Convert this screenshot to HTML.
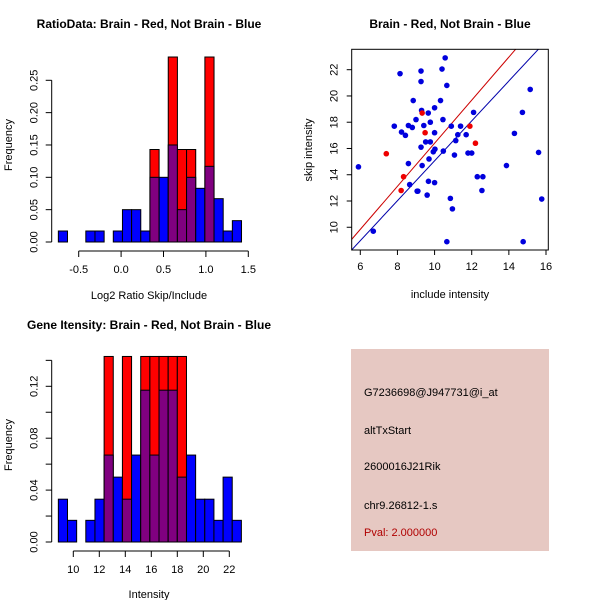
<!DOCTYPE html>
<html><head><meta charset="utf-8"><style>
body{margin:0;background:#fff}
svg{display:block;font-family:"Liberation Sans",Arial,sans-serif}
</style></head><body>
<svg id="c" width="600" height="600" viewBox="0 0 600 600" xmlns="http://www.w3.org/2000/svg">
<rect width="600" height="600" fill="#fff"/>
<g id="p1"></g>
<g id="p2"></g>
<g id="p3"></g>
<g>
<rect x="351" y="349" width="198" height="202" fill="#E6C8C2"/>
<text x="364" y="396" font-size="11" fill="#000">G7236698@J947731@i_at</text>
<text x="364" y="434" font-size="11" fill="#000">altTxStart</text>
<text x="364" y="470" font-size="11" fill="#000">2600016J21Rik</text>
<text x="364" y="509" font-size="11" fill="#000">chr9.26812-1.s</text>
<text x="364" y="536" font-size="11" fill="#B00000">Pval: 2.000000</text>
</g>
</svg>
<script>
// ---- Panel 1 data: RatioData histogram ----
const ratioBreakStart = -0.74;
const ratioBinWidth = 0.108;
const ratioBlue = [0.017,0,0,0.017,0.017,0,0.017,0.05,0.05,0.017,0.10,0.10,0.15,0.05,0.10,0.083,0.117,0.067,0.017,0.033];
const ratioRed  = [0,0,0,0,0,0,0,0,0,0,0.143,0,0.286,0.143,0.143,0,0.286,0,0,0];
const ratioXTicks = [-0.5,0,0.5,1,1.5];
const ratioXTickLabels = ["-0.5","0.0","0.5","1.0","1.5"];
const ratioYTicks = [0,0.05,0.10,0.15,0.20,0.25];
const ratioYTickLabels = ["0.00","0.05","0.10","0.15","0.20","0.25"];

// ---- Panel 2 data: scatter ----
const blueX = [5.9,6.7,8.14,9.27,9.27,10.4,10.57,10.66,8.85,10.32,10.0,9.3,9.66,9.0,10.45,7.83,8.59,8.8,9.42,9.77,10.9,11.4,8.22,8.43,10.0,11.25,11.7,11.14,9.52,9.77,9.27,10.02,9.93,10.47,11.8,12.0,11.07,9.7,8.59,9.33,8.66,9.67,10.0,9.06,9.1,9.6,10.85,10.96,10.66,12.1,12.3,12.6,12.55,15.15,14.73,14.3,13.87,15.6,15.77,14.77];
const blueY = [14.6,9.7,21.7,21.9,21.1,22.05,22.9,20.8,19.65,19.65,19.1,18.9,18.7,18.2,18.2,17.7,17.75,17.6,17.75,18.0,17.7,17.7,17.25,17.0,17.2,17.05,17.05,16.6,16.5,16.5,16.1,15.95,15.75,15.8,15.65,15.65,15.5,15.2,14.85,14.7,13.25,13.5,13.4,12.75,12.75,12.45,12.2,11.4,8.9,18.75,13.85,13.85,12.8,20.5,18.75,17.15,14.7,15.7,12.15,8.9];
const redX = [7.4,8.33,8.2,9.33,9.49,11.9,12.2];
const redY = [15.6,13.85,12.8,18.7,17.2,17.7,16.4];
const blueLine = [1.52,-0.14]; // slope, intercept
const redLine = [1.64,0.0];
const scXTicks = [6,8,10,12,14,16];
const scYTicks = [10,12,14,16,18,20,22];

// ---- Panel 3 data: Gene intensity histogram ----
const geneBreakStart = 8.85;
const geneBinWidth = 0.704;
const geneBlue = [0.033,0.0167,0,0.0167,0.033,0.067,0.05,0.033,0.067,0.117,0.067,0.117,0.117,0.05,0.067,0.033,0.033,0.0167,0.05,0.0167];
const geneRed  = [0,0,0,0,0,0.143,0,0.143,0,0.143,0.143,0.143,0.143,0.143,0,0,0,0,0,0];
const geneXTicks = [10,12,14,16,18,20,22];
const geneYTicks = [0,0.02,0.04,0.06,0.08,0.10,0.12,0.14];
const geneYTickLabels = ["0.00","","0.04","","0.08","","0.12",""];

const NS="http://www.w3.org/2000/svg";
function mk(parent,tag,attrs,text){const e=document.createElementNS(NS,tag);for(const k in attrs)e.setAttribute(k,attrs[k]);if(text!==undefined)e.textContent=text;parent.appendChild(e);return e;}

function histogram(g,o){
  const xs=v=>o.x0px+(v-o.x0)*o.kx, ys=v=>o.y0px-v*o.ky;
  const t=mk(g,'text',{x:o.titleX,y:o.titleY,'font-size':12,'font-weight':'bold','text-anchor':'middle'},o.title);
  
  
  for(let i=0;i<o.blue.length;i++){
    const a=xs(o.start+i*o.w), b=xs(o.start+(i+1)*o.w);
    const bv=o.blue[i], rv=o.red[i];
    if(rv>0){const r=mk(g,'rect',{x:a,y:ys(rv),width:b-a,height:ys(0)-ys(rv),fill:'#FF0000',stroke:'#000','stroke-width':1});
      
      }
    if(bv>0){const col=rv>0?'#800080':'#0000FF';
      const r=mk(g,'rect',{x:a,y:ys(bv),width:b-a,height:ys(0)-ys(bv),fill:col,stroke:'#000','stroke-width':1});
      
      }
  }
  const ax=o.axisY;
  const xa=mk(g,'line',{x1:xs(o.xt[0]),x2:xs(o.xt[o.xt.length-1]),y1:ax,y2:ax,stroke:'#000'});
  
  
  o.xt.forEach((v,i)=>{mk(g,'line',{x1:xs(v),x2:xs(v),y1:ax,y2:ax+6,stroke:'#000'});
    const l=mk(g,'text',{x:xs(v),y:ax+22,'font-size':11,'text-anchor':'middle'},o.xl[i]);
    
    });
  const ya=mk(g,'line',{x1:o.axisX,x2:o.axisX,y1:ys(o.yt[0]),y2:ys(o.yt[o.yt.length-1]),stroke:'#000'});
  
  
  o.yt.forEach((v,i)=>{mk(g,'line',{x1:o.axisX-6,x2:o.axisX,y1:ys(v),y2:ys(v),stroke:'#000'});
    if(o.yl[i]){const px=o.axisX-14;const l=mk(g,'text',{x:px,y:ys(v),'font-size':11,'text-anchor':'middle',transform:`rotate(-90 ${px} ${ys(v)})`},o.yl[i]);
    
    }});
  const xt=mk(g,'text',{x:o.titleX,y:o.xTitleY,'font-size':11,'text-anchor':'middle'},o.xTitle);
  
  
  const yy=o.yTitleY;
  const yt=mk(g,'text',{x:12,y:yy,'font-size':11,'text-anchor':'middle',transform:`rotate(-90 12 ${yy})`},'Frequency');
  
  
}

histogram(document.getElementById('p1'),{start:ratioBreakStart,w:ratioBinWidth,blue:ratioBlue,red:ratioRed,
  x0:-0.5,x0px:78.7,kx:84.8,y0px:242,ky:646.8,xt:ratioXTicks,xl:ratioXTickLabels,yt:ratioYTicks,yl:ratioYTickLabels,
  axisY:251,axisX:51.7,title:'RatioData: Brain - Red, Not Brain - Blue',titleX:149,titleY:28,
  xTitle:'Log2 Ratio Skip/Include',xTitleY:299,yTitleY:145});
histogram(document.getElementById('p3'),{start:geneBreakStart,w:geneBinWidth,blue:geneBlue,red:geneRed,
  x0:10,x0px:73.3,kx:13,y0px:542,ky:1297.5,xt:geneXTicks,xl:geneXTicks.map(String),yt:geneYTicks,yl:geneYTickLabels,
  axisY:551,axisX:51.7,title:'Gene Itensity: Brain - Red, Not Brain - Blue',titleX:149,titleY:329,
  xTitle:'Intensity',xTitleY:598,yTitleY:445});

(function(){
  const g=document.getElementById('p2');
  const L=351.7,R=548.3,T=49.3,B=250;
  const xs=v=>360.3+(v-6)*18.57, ys=v=>69.7-(v-22)*13.13;
  const t=mk(g,'text',{x:450,y:28,'font-size':12,'font-weight':'bold','text-anchor':'middle'},'Brain - Red, Not Brain - Blue');
  
  
  const cp=mk(g,'clipPath',{id:'scClip'});mk(cp,'rect',{x:L,y:T,width:R-L,height:B-T});
  const lg=mk(g,'g',{'clip-path':'url(#scClip)'});
  [[redLine,'#CC0000','red-fit-line'],[blueLine,'#0000AA','blue-fit-line']].forEach(([ln,c,n])=>{
    const xa=4,xb=18;
    const e=mk(lg,'line',{x1:xs(xa),y1:ys(ln[0]*xa+ln[1]),x2:xs(xb),y2:ys(ln[0]*xb+ln[1]),stroke:c,'stroke-width':1});
    
    
  });
  blueX.forEach((v,i)=>{const p=mk(g,'circle',{cx:xs(v),cy:ys(blueY[i]),r:2.8,fill:'#0000DD'});
    
    });
  redX.forEach((v,i)=>{const p=mk(g,'circle',{cx:xs(v),cy:ys(redY[i]),r:2.8,fill:'#EE0000'});
    
    });
  const box=mk(g,'rect',{x:L,y:T,width:R-L,height:B-T,fill:'none',stroke:'#000'});
  
  
  scXTicks.forEach(v=>{mk(g,'line',{x1:xs(v),x2:xs(v),y1:B,y2:B+5,stroke:'#000'});
    const l=mk(g,'text',{x:xs(v),y:B+20,'font-size':11,'text-anchor':'middle'},String(v));
    
    });
  scYTicks.forEach(v=>{mk(g,'line',{x1:L-5,x2:L,y1:ys(v),y2:ys(v),stroke:'#000'});
    const px=L-14;const l=mk(g,'text',{x:px,y:ys(v),'font-size':11,'text-anchor':'middle',transform:`rotate(-90 ${px} ${ys(v)})`},String(v));
    
    });
  const xt=mk(g,'text',{x:450,y:298,'font-size':11,'text-anchor':'middle'},'include intensity');
  
  
  const yt=mk(g,'text',{x:312,y:150,'font-size':11,'text-anchor':'middle',transform:'rotate(-90 312 150)'},'skip intensity');
  
  
})();
</script>
</body></html>
